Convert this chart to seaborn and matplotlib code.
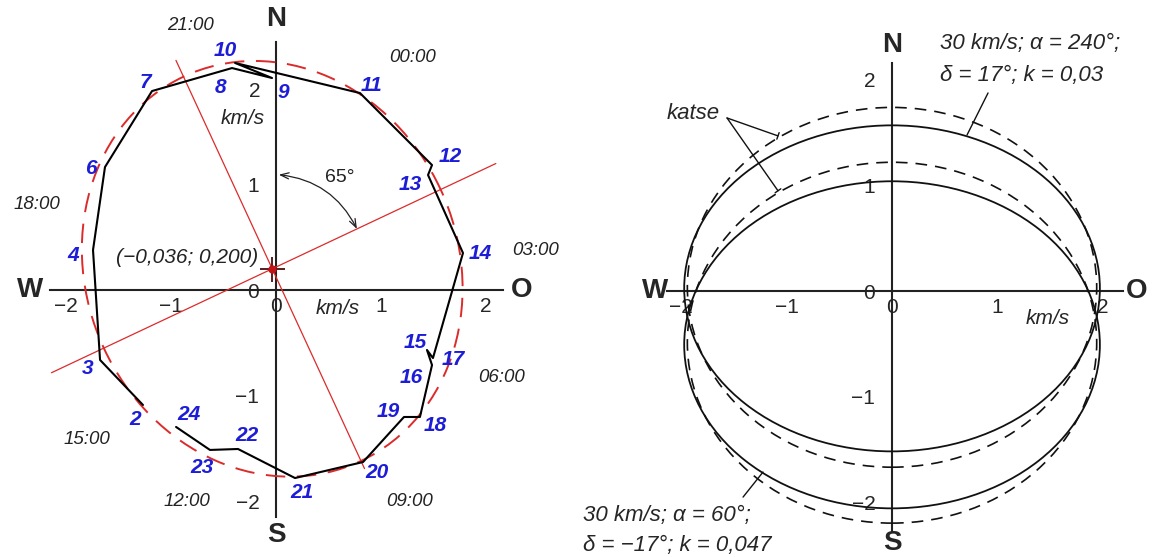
import numpy as np
import matplotlib
matplotlib.use("Agg")
import matplotlib.pyplot as plt
from matplotlib.patches import Ellipse
import pandas as pd
import seaborn as sns

# ---------------------------------------------------------------
# Hodograph of the horizontal velocity (km/s), one vertex per hour
# ---------------------------------------------------------------
hours = [2, 3, 4, 6, 7, 8, 9, 10, 11, 12, 13, 14, 15, 16, 17, 18,
         19, 20, 21, 22, 23, 24]
east = [-1.267, -1.676, -1.743, -1.629, -1.181, -0.419, -0.038, -0.390,
        0.800, 1.486, 1.448, 1.781, 1.495, 1.438, 1.486, 1.371,
        1.219, 0.829, 0.181, -0.362, -0.629, -0.952]
north = [-1.085, -0.660, 0.377, 1.160, 1.877, 2.094, 2.000, 2.142,
         1.858, 1.179, 1.085, 0.349, -0.642, -0.566, -0.708, -1.198,
         -1.198, -1.623, -1.774, -1.500, -1.509, -1.292]

# Fitted ellipse
fit_center = (-0.036, 0.200)
fit_semi_major = 2.00
fit_semi_minor = 1.77
fit_azimuth = 65          # degrees from N to the minor axis

clock_times = ["21:00", "00:00", "03:00", "06:00",
               "09:00", "12:00", "15:00", "18:00"]

# Model ellipses (solid) and measured ones (katse, dashed)
model_center_y = [0.025, -0.510]
model_semi_y = [1.545, 1.550]
model_semi_x = 1.97
katse_center_y = [0.035, -0.490]
katse_semi_y = [1.705, 1.710]
katse_semi_x = 1.94

tick_major = [-2, -1, 0, 1, 2]
tick_minor = [-1.5, -0.5, 0.5, 1.5]

# ---------------------------------------------------------------
# Layout (label placement, data units)
# ---------------------------------------------------------------
hour_label_pos = {
    2: (-1.343, -1.226), 3: (-1.790, -0.736), 4: (-1.933, 0.330),
    6: (-1.762, 1.151), 7: (-1.248, 1.962), 8: (-0.533, 1.906),
    9: (0.067, 1.868), 10: (-0.486, 2.264), 11: (0.914, 1.934),
    12: (1.657, 1.255), 13: (1.276, 0.991), 14: (1.943, 0.349),
    15: (1.324, -0.500), 16: (1.286, -0.821), 17: (1.686, -0.660),
    18: (1.514, -1.274), 19: (1.067, -1.151), 20: (0.962, -1.726),
    21: (0.248, -1.906), 22: (-0.276, -1.368), 23: (-0.705, -1.679),
    24: (-0.829, -1.179),
}
clock_pos = [(-0.819, 2.50), (1.305, 2.198), (2.476, 0.377), (2.152, -0.821),
             (1.276, -2.000), (-0.848, -2.000), (-1.800, -1.415),
             (-2.276, 0.802)]

RED = "#dc2b2b"
BLUE = "#1d1dd8"
AXC = "#222222"

sns.set_style("white")
plt.rcParams["font.family"] = ["Liberation Sans", "DejaVu Sans"]
plt.rcParams["axes.unicode_minus"] = True

fig = plt.figure(figsize=(11.54, 5.57), dpi=100)
axL = fig.add_axes([0, 0, 577 / 1154, 1])
axR = fig.add_axes([577 / 1154, 0, 577 / 1154, 1])


def cross_axes(ax, xlim, ylim, xb, yb, ylabels):
    ax.set_xlim(*xlim)
    ax.set_ylim(*ylim)
    ax.set_facecolor("none")
    for s in ("top", "right"):
        ax.spines[s].set_visible(False)
    for s in ("left", "bottom"):
        ax.spines[s].set_position(("data", 0))
        ax.spines[s].set_linewidth(1.5)
        ax.spines[s].set_color(AXC)
        ax.spines[s].set_zorder(1)
    ax.spines["bottom"].set_bounds(*xb)
    ax.spines["left"].set_bounds(*yb)
    ax.set_xticks(tick_major)
    ax.set_xticks(tick_minor, minor=True)
    ax.set_yticks(tick_major)
    ax.set_yticks(tick_minor, minor=True)
    ax.set_xticklabels(["\u22122", "\u22121", "0", "1", "2"])
    ax.set_yticklabels(ylabels)
    ax.tick_params(axis="x", which="both", direction="in", length=9,
                   width=1.2, color=AXC, labelsize=15, pad=5)
    ax.tick_params(axis="y", which="both", direction="out", length=9,
                   width=1.2, color=AXC, labelsize=15, pad=3)
    ax.grid(False)


cross_axes(axL, (-2.629, 2.867), (-2.519, 2.736), (-2.15, 2.16), (-2.14, 2.34),
           ["\u22122", "\u22121", "0", "1", ""])
cross_axes(axR, (-2.986, 2.483), (-2.521, 2.758), (-2.13, 2.19), (-2.27, 2.16),
           ["\u22122", "\u22121", "0", "1", "2"])

# ---------------------------- left panel ----------------------------
ax = axL
cx, cy = fit_center
major_dir = np.deg2rad(180 - fit_azimuth)   # 115 deg from east
minor_dir = np.deg2rad(90 - fit_azimuth)    # 25 deg from east

ax.add_patch(Ellipse(fit_center, 2 * fit_semi_major, 2 * fit_semi_minor,
                     angle=np.rad2deg(major_dir), fill=False, ec=RED, lw=1.4,
                     ls=(0, (10, 6)), zorder=2))
for d, t0, t1 in ((major_dir, -2.08, 2.17), (minor_dir, -2.32, 2.35)):
    ax.plot([cx + t0 * np.cos(d), cx + t1 * np.cos(d)],
            [cy + t0 * np.sin(d), cy + t1 * np.sin(d)],
            color=RED, lw=0.9, zorder=2)

hodo = pd.DataFrame({"hour": hours, "east": east, "north": north})
sns.lineplot(data=hodo, x="east", y="north", sort=False, estimator=None,
             color="black", lw=1.5, ax=ax, zorder=3)
ax.set_xlabel("")
ax.set_ylabel("")

for h in hours:
    lx, ly = hour_label_pos[h]
    ax.text(lx, ly, str(h), color=BLUE, fontsize=15, fontweight="bold",
            style="italic", ha="center", va="center", zorder=4)

for t, (lx, ly) in zip(clock_times, clock_pos):
    ax.text(lx, ly, t, fontsize=13.5, style="italic", ha="center",
            va="center", color="#222")

ax.plot(cx, cy, marker="+", ms=18, mew=1.3, color="#4a0c0c", zorder=5)
ax.plot(cx, cy, marker="o", ms=5, color="#c01515", zorder=5)
ax.text(-0.171, 0.311, "(\u22120,036; 0,200)", fontsize=15, style="italic",
        ha="right", va="center", color="#222")

# 65 degree arc between N and the minor axis
r = 0.89
p1 = (cx + r * np.cos(np.deg2rad(86)), cy + r * np.sin(np.deg2rad(86)))
p2 = (cx + r * np.cos(minor_dir), cy + r * np.sin(minor_dir))
ax.annotate("", xy=p2, xytext=p1,
            arrowprops=dict(arrowstyle="<->,head_length=0.6,head_width=0.22",
                            connectionstyle="arc3,rad=-0.27", lw=0.9,
                            color="#222", shrinkA=0, shrinkB=0))
ax.text(0.61, 1.057, f"{fit_azimuth}\u00b0", fontsize=14, ha="center",
        va="center", color="#222")

ax.text(-0.20, 1.870, "2", fontsize=15, ha="center", va="center")
ax.text(-0.314, 1.620, "km/s", fontsize=15, style="italic", ha="center",
        va="center")
ax.text(0.59, -0.17, "km/s", fontsize=15, style="italic", ha="center",
        va="center")

for s, (lx, ly) in {"N": (0, 2.56), "S": (0, -2.31),
                    "W": (-2.343, 0), "O": (2.343, 0)}.items():
    ax.text(lx, ly, s, fontsize=20, fontweight="bold", ha="center",
            va="center")

# ---------------------------- right panel ----------------------------
ax = axR
for y0, sy in zip(model_center_y, model_semi_y):
    ax.add_patch(Ellipse((0, y0), 2 * model_semi_x, 2 * sy, fill=False,
                         ec="#111", lw=1.3, zorder=3))
for y0, sy in zip(katse_center_y, katse_semi_y):
    ax.add_patch(Ellipse((0, y0), 2 * katse_semi_x, 2 * sy, fill=False,
                         ec="#111", lw=1.2, ls=(0, (7, 4.8)), zorder=3))

ax.text(-1.63, 1.687, "katse", fontsize=16, style="italic", ha="right",
        va="center")
for tgt in ((-1.081, 1.47), (-1.081, 0.95)):
    ax.annotate("", xy=tgt, xytext=(-1.564, 1.640),
                arrowprops=dict(arrowstyle="-[,widthB=0.25,lengthB=0",
                                lw=1.0, color="#111", shrinkA=0, shrinkB=0))

ax.text(0.455, 2.35, "30 km/s; \u03b1 = 240\u00b0;", fontsize=16,
        style="italic", ha="left", va="center")
ax.text(0.455, 2.047, "\u03b4 = 17\u00b0; k = 0,03", fontsize=16,
        style="italic", ha="left", va="center")
ax.plot([0.910, 0.711], [1.877, 1.479], color="#111", lw=1.0)

ax.text(-2.929, -2.123, "30 km/s; \u03b1 = 60\u00b0;", fontsize=16,
        style="italic", ha="left", va="center")
ax.text(-2.929, -2.408, "\u03b4 = \u221217\u00b0; k = 0,047", fontsize=16,
        style="italic", ha="left", va="center")
ax.plot([-1.412, -1.223], [-1.953, -1.716], color="#111", lw=1.0)

ax.text(1.479, -0.256, "km/s", fontsize=15, style="italic", ha="center",
        va="center")

for s, (lx, ly) in {"N": (0, 2.33), "S": (0, -2.39),
                    "W": (-2.246, 0), "O": (2.322, 0)}.items():
    ax.text(lx, ly, s, fontsize=20, fontweight="bold", ha="center",
            va="center")

fig.savefig("out.png", dpi=100, facecolor="white")
